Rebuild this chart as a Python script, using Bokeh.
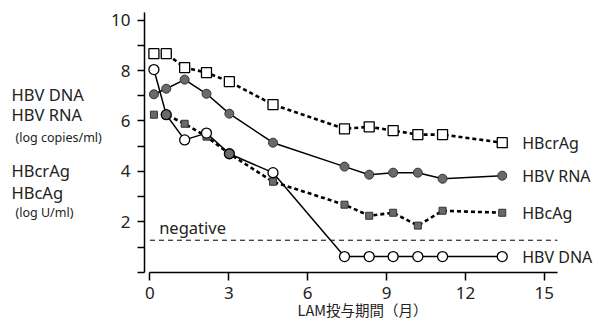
from bokeh.plotting import figure
from bokeh.models import Range1d, Label, ColumnDataSource, FixedTicker, Title
from bokeh.layouts import row
from bokeh.core.properties import value
from bokeh.embed import file_html
from bokeh.resources import INLINE

# ---- data ----
months = [0.15, 0.62, 1.32, 2.15, 3.02, 4.68, 7.40, 8.34, 9.25, 10.19, 11.13, 13.40]
hbcrag = [8.67, 8.67, 8.12, 7.92, 7.56, 6.65, 5.69, 5.77, 5.62, 5.46, 5.46, 5.14]
hbv_rna = [7.06, 7.28, 7.64, 7.08, 6.29, 5.14, 4.19, 3.87, 3.95, 3.95, 3.71, 3.83]
hbcag = [6.25, 6.25, 5.89, 5.38, 4.70, 3.59, 2.68, 2.24, 2.36, 1.85, 2.44, 2.36]
hbv_dna = [8.04, 6.25, 5.25, 5.52, 4.70, 3.95, 0.62, 0.62, 0.62, 0.62, 0.62, 0.62]
negative_level = 1.27
x_ticks = [0, 3, 6, 9, 12, 15]
y_major = [2, 4, 6, 8, 10]
y_minor = [0, 1, 3, 5, 7, 9]
series_names = ["HBcrAg", "HBV RNA", "HBcAg", "HBV DNA"]
left_labels_top = ["HBV DNA", "HBV RNA"]
left_unit_top = "(log copies/ml)"
left_labels_bottom = ["HBcrAg", "HBcAg"]
left_unit_bottom = "(log U/ml)"
x_title = "LAM投与期間（月）"

FONT = "Noto Sans"
GRAY = "#6a6a6a"
TXT = "#222222"
W, H = 599, 322
WL = 108  # width of the left description panel

y_range = Range1d(-0.01, 10.78)

# ---- main chart ----
p = figure(width=W - WL, height=H, output_backend="svg", toolbar_location=None,
           x_range=Range1d(-0.208, 17.10), y_range=y_range,
           min_border_left=34, min_border_right=0, min_border_top=0,
           min_border_bottom=50)
p.outline_line_color = None
p.grid.visible = False

xa = p.xaxis[0]
xa.bounds = (0, 15.5)
xa.ticker = FixedTicker(ticks=x_ticks)
xa.major_tick_in = 0
xa.major_tick_out = 8
xa.minor_tick_out = 0
xa.minor_tick_in = 0
xa.major_label_standoff = 6
xa.major_label_text_font = FONT
xa.major_label_text_font_size = "17px"
xa.major_label_text_color = TXT
xa.axis_line_width = 1.5
xa.major_tick_line_width = 1.5

ya = p.yaxis[0]
ya.bounds = (0, 10.3)
ya.ticker = FixedTicker(ticks=y_major, minor_ticks=y_minor)
ya.major_tick_in = 0
ya.major_tick_out = 7
ya.minor_tick_in = 0
ya.minor_tick_out = 7
ya.major_label_standoff = 7
ya.major_label_text_font = FONT
ya.major_label_text_font_size = "17px"
ya.major_label_text_color = TXT
ya.axis_line_width = 1.5
ya.major_tick_line_width = 1.5
ya.minor_tick_line_width = 1.5
ya.minor_tick_line_color = "black"

p.add_layout(Title(text=x_title, align="left", offset=153, standoff=-9,
                   text_font="Noto Sans CJK JP", text_font_size="14.5px",
                   text_font_style="normal", text_color=TXT), "below")

# negative threshold
p.line([0, 15.5], [negative_level, negative_level], line_color="black",
       line_width=1, line_dash="5 4")
p.add_layout(Label(x=0.35, y=negative_level, y_offset=13, text="negative",
                   text_font=FONT, text_font_size="16.5px", text_color=TXT,
                   text_baseline="alphabetic"))

# series lines
p.line(months, hbcrag, line_color="black", line_width=2.6, line_dash="4 3")
p.line(months, hbcag, line_color="black", line_width=2.6, line_dash="4 3")
p.line(months, hbv_rna, line_color="black", line_width=1.5)
p.line(months, hbv_dna, line_color="black", line_width=1.5)

# markers
p.scatter(months, hbcrag, marker="square", size=10, fill_color="white",
          line_color="black", line_width=1.3)
p.scatter(months, hbcag, marker="square", size=7, fill_color=GRAY,
          line_color="#333333", line_width=1)
p.scatter(months, hbv_rna, marker="circle", size=9, fill_color=GRAY,
          line_color="#333333", line_width=1)
dna_fill = [GRAY if abs(d - c) < 0.05 else "white" for d, c in zip(hbv_dna, hbcag)]
p.scatter(months, hbv_dna, marker="circle", size=10, fill_color=dna_fill,
          line_color="black", line_width=1.3)

# right-side series labels
last_vals = [hbcrag[-1], hbv_rna[-1], hbcag[-1], hbv_dna[-1]]
src = ColumnDataSource(dict(x=[months[-1]] * 4, y=last_vals, t=series_names))
p.text(x="x", y="y", text="t", source=src, x_offset=20, text_baseline="middle",
       text_font=value(FONT), text_font_size="16px", text_color=TXT)

# ---- left description panel (shares the y scale of the chart) ----
lp = figure(width=WL, height=H, output_backend="svg", toolbar_location=None,
            x_range=Range1d(0, WL), y_range=y_range,
            min_border_left=0, min_border_right=0, min_border_top=0,
            min_border_bottom=50)
lp.axis.visible = False
lp.grid.visible = False
lp.outline_line_color = None
big_text = left_labels_top + left_labels_bottom
big_y = [7.05, 6.25, 4.03, 3.16]
lp.text(x=[11] * 4, y=big_y, text=big_text, text_baseline="middle",
        text_font=value(FONT), text_font_size="16.5px", text_color=TXT)
lp.text(x=[15, 15], y=[5.35, 2.37], text=[left_unit_top, left_unit_bottom],
        text_baseline="middle", text_font=value(FONT), text_font_size="12.5px",
        text_color=TXT)

layout = row(lp, p, spacing=0)
open("out.html", "w").write(file_html(layout, INLINE))
